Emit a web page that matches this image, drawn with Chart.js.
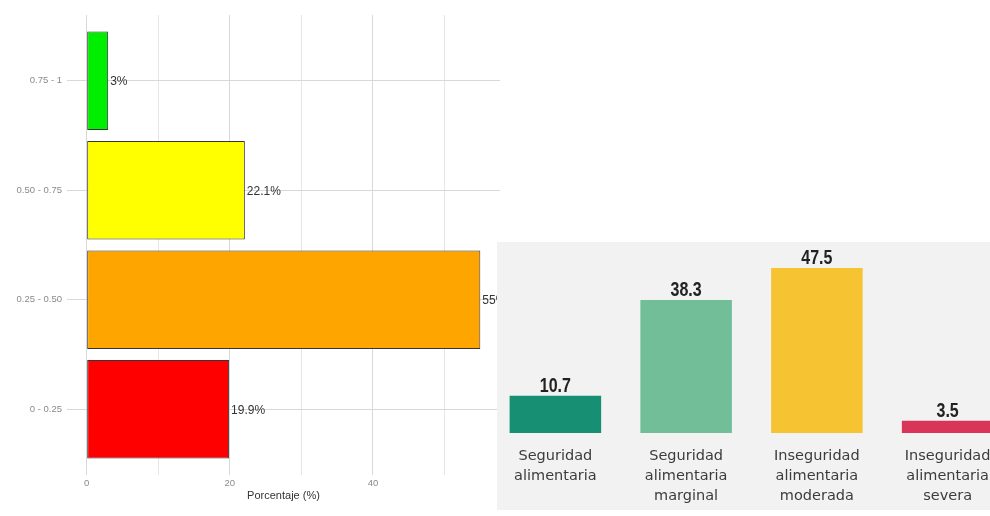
<!DOCTYPE html>
<html>
<head>
<meta charset="utf-8">
<script src="https://cdn.jsdelivr.net/npm/chart.js@4.4.1/dist/chart.umd.min.js"></script>
<style>
  html, body { margin: 0; padding: 0; background: #ffffff; width: 990px; height: 516px; overflow: hidden; }
  #wrap1 { position: absolute; left: 0; top: 0; width: 520px; height: 516px; }
  #panel { position: absolute; left: 497px; top: 242px; width: 493px; height: 268px; background: #f2f2f2; }
  #wrap2 { position: absolute; left: 490px; top: 236px; width: 523px; height: 280px; }
</style>
</head>
<body>
<div id="wrap1"><canvas id="c1"></canvas></div>
<div id="panel"></div>
<div id="wrap2"><canvas id="c2"></canvas></div>
<script>
// ---- Data: left chart (horizontal bars) ----
const rangeLabels = ["0 - 0.25", "0.25 - 0.50", "0.50 - 0.75", "0.75 - 1"];
const rangeValues = [19.9, 55, 22.1, 3];
const pctTicks = [0, 10, 20, 30, 40, 50];
const pctTickLabels = ["0", "", "20", "", "40", ""];

// ---- Data: right chart (vertical bars) ----
const foodLabels = [
  ["Seguridad", "alimentaria"],
  ["Seguridad", "alimentaria", "marginal"],
  ["Inseguridad", "alimentaria", "moderada"],
  ["Inseguridad", "alimentaria", "severa"]
];
const foodValues = [10.7, 38.3, 47.5, 3.5];

// ---- Styles ----
const rangeColors = ["#ff0000", "#ffa500", "#ffff00", "#00ee00"];
const foodColors = ["#168f72", "#72be98", "#f6c433", "#d83559"];

const barLabels1 = {
  id: "barLabels1",
  afterDatasetsDraw(chart) {
    const ctx = chart.ctx;
    const meta = chart.getDatasetMeta(0);
    ctx.save();
    ctx.font = "12px 'Liberation Sans', Arial, sans-serif";
    ctx.fillStyle = "#333333";
    ctx.textAlign = "left";
    ctx.textBaseline = "middle";
    meta.data.forEach((bar, i) => {
      ctx.fillText(rangeValues[i] + "%", bar.x + 2, bar.y + 1);
    });
    ctx.restore();
  }
};

new Chart(document.getElementById("c1"), {
  type: "bar",
  data: {
    datasets: [{
      data: rangeValues.map((v, i) => ({ x: v, y: i })),
      backgroundColor: rangeColors,
      borderColor: "#363636",
      borderWidth: 1,
      borderSkipped: false,
      barPercentage: 0.9,
      categoryPercentage: 1.0
    }]
  },
  options: {
    indexAxis: "y",
    responsive: true,
    maintainAspectRatio: false,
    animation: false,
    layout: { padding: { top: 15, right: 20, bottom: 0, left: 0 } },
    plugins: { legend: { display: false }, tooltip: { enabled: false } },
    scales: {
      x: {
        type: "linear",
        position: "bottom",
        min: -2.75,
        max: 57.75,
        offset: false,
        afterBuildTicks: s => { s.ticks = pctTicks.map(v => ({ value: v })); },
        afterFit: s => { s.height = 41; },
        ticks: {
          callback: (v) => pctTickLabels[pctTicks.indexOf(v)],
          color: "#8a8a8a",
          font: { family: "'Liberation Sans', Arial, sans-serif", size: 9.5 },
          padding: 3,
          autoSkip: false,
          maxRotation: 0
        },
        grid: {
          color: c => (c.tick && c.tick.value % 20 === 0) ? "#d8d8d8" : "#e6e6e6",
          lineWidth: 1,
          drawTicks: false,
          offset: false
        },
        border: { display: false },
        title: {
          display: true,
          text: "Porcentaje (%)",
          color: "#333333",
          font: { family: "'Liberation Sans', Arial, sans-serif", size: 11 },
          padding: { top: 0, bottom: 13 }
        }
      },
      y: {
        type: "linear",
        min: -0.6,
        max: 3.6,
        offset: false,
        afterBuildTicks: s => { s.ticks = rangeLabels.map((_, i) => ({ value: i })); },
        afterFit: s => { s.width = 67; },
        ticks: {
          callback: v => rangeLabels[v],
          color: "#8a8a8a",
          font: { family: "'Liberation Sans', Arial, sans-serif", size: 9.5 },
          padding: 5,
          autoSkip: false
        },
        grid: { color: "#d8d8d8", lineWidth: 1, drawTicks: false, offset: false },
        border: { display: false }
      }
    }
  },
  plugins: [barLabels1]
});

const barLabels2 = {
  id: "barLabels2",
  afterDatasetsDraw(chart) {
    const ctx = chart.ctx;
    const meta = chart.getDatasetMeta(0);
    meta.data.forEach((bar, i) => {
      ctx.save();
      ctx.font = "bold 20px 'Liberation Sans', Arial, sans-serif";
      ctx.fillStyle = "#222222";
      ctx.textAlign = "center";
      ctx.textBaseline = "alphabetic";
      ctx.translate(bar.x, bar.y - 4);
      ctx.scale(0.8, 1);
      ctx.fillText(String(foodValues[i]), 0, 0);
      ctx.restore();
    });
  }
};

new Chart(document.getElementById("c2"), {
  type: "bar",
  data: {
    labels: foodLabels,
    datasets: [{
      data: foodValues,
      backgroundColor: foodColors,
      borderWidth: 0,
      barPercentage: 0.7,
      categoryPercentage: 1.0
    }]
  },
  options: {
    responsive: true,
    maintainAspectRatio: false,
    animation: false,
    layout: { padding: { top: 6, right: 0, bottom: 0, left: 0 } },
    plugins: { legend: { display: false }, tooltip: { enabled: false } },
    scales: {
      x: {
        afterFit: s => { s.height = 83; },
        grid: { display: false, drawTicks: false },
        border: { display: false },
        ticks: {
          color: "#3c3c3c",
          font: { family: "'DejaVu Sans', sans-serif", size: 14.5, lineHeight: 1.38 },
          padding: 13,
          autoSkip: false,
          maxRotation: 0
        }
      },
      y: { display: false, min: 0, max: 55 }
    }
  },
  plugins: [barLabels2]
});
</script>
</body>
</html>
